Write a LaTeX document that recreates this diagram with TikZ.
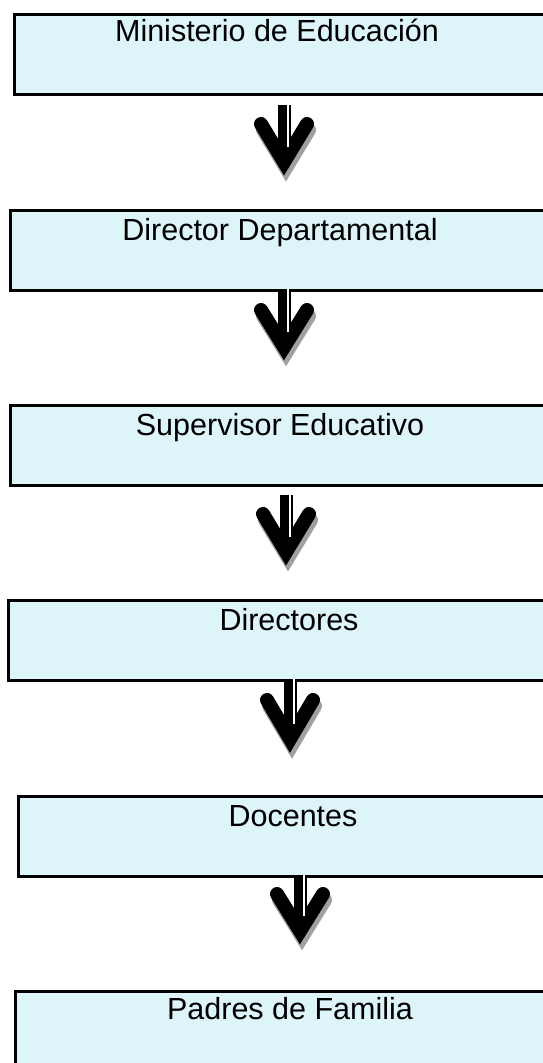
\documentclass[tikz,border=0pt]{standalone}
\usepackage{fontspec}
\setmainfont{Liberation Sans}
\definecolor{boxfill}{RGB}{221,244,249}
\definecolor{shadowgray}{RGB}{160,160,160}
\tikzset{
  box/.style={draw=black, line width=2.6pt, fill=boxfill, rectangle, inner sep=0pt, anchor=north west},
  lbl/.style={inner sep=0pt, anchor=base, font=\fontsize{30.5}{34}\selectfont},
  chev/.style={line width=14pt, line cap=round, line join=miter},
}
\newcommand{\downarr}[4]{%
  \draw[chev, shadowgray] ($(#1-23,#3+7)+(2,6)$) -- ($(#1,#4-13)+(2,6)$) -- ($(#1+23,#3+7)+(2,6)$);
  \fill[black] (#1-6.5,#2) rectangle (#1+6.5,#4-22);
  \draw[chev, black] (#1-23,#3+7) -- (#1,#4-13) -- (#1+23,#3+7);
  \fill[white] (#1+3.2,#2) rectangle (#1+4.6,#4-28);
}
\usetikzlibrary{calc}
\begin{document}
\begin{tikzpicture}[x=1pt,y=-1pt]
\useasboundingbox (0,0) rectangle (543,1063);
\clip (0,0) rectangle (543,1063);
\node[box, minimum width=547pt, minimum height=80pt] (b1) at (13,13) {};
\node[box, minimum width=551pt, minimum height=80pt] (b2) at (9,209) {};
\node[box, minimum width=551pt, minimum height=80pt] (b3) at (9,404) {};
\node[box, minimum width=553pt, minimum height=80pt] (b4) at (7,599) {};
\node[box, minimum width=543pt, minimum height=80pt] (b5) at (17,795) {};
\node[box, minimum width=546pt, minimum height=90pt] (b6) at (14,990) {};
\node[lbl] (t1) at (277,41) {Ministerio de Educación};
\node[lbl] (t2) at (280,240) {Director Departamental};
\node[lbl] (t3) at (280,435) {Supervisor Educativo};
\node[lbl] (t4) at (289,630) {Directores};
\node[lbl] (t5) at (293,826) {Docentes};
\node[lbl] (t6) at (290,1019) {Padres de Familia};
\downarr{284}{105}{117}{175}
\downarr{284}{289}{303}{360}
\downarr{286}{495}{507}{565}
\downarr{290}{679}{693}{752}
\downarr{300}{875}{887}{944}
\end{tikzpicture}
\end{document}
